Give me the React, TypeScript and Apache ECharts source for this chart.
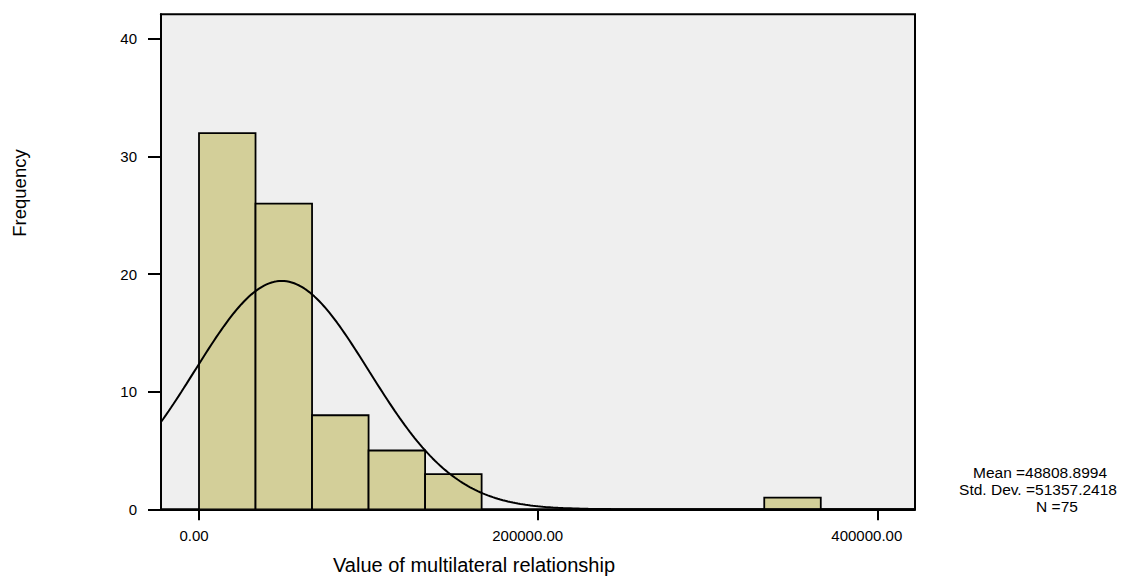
import React, { useEffect, useRef } from "react";
import * as echarts from "echarts";

// Histogram of "Value of multilateral relationship" with a fitted normal curve.
const binWidth = 100000 / 3;
const frequencies = [32, 26, 8, 5, 3, 0, 0, 0, 0, 0, 1];
const yTicks = [0, 10, 20, 30, 40];
const xTicks = [0, 200000, 400000];
const xTickLabels = ["0.00", "200000.00", "400000.00"];

// Summary statistics shown beside the plot.
const mean = 48808.8994;
const stdDev = 51357.2418;
const count = 75;

const xMin = -22409;
const xMax = 422232;
const yMax = 42.1;

const FONT = "'Liberation Sans', Arial, sans-serif";

// Bars as [lower edge, upper edge, frequency]; empty bins are not drawn.
const barData = frequencies
  .map((f, i) => [i * binWidth, (i + 1) * binWidth, f])
  .filter((d) => d[2] > 0);

// Normal density for the stated mean / std. dev., scaled to counts per bin.
const curveSteps = 300;
const curveData: number[][] = [];
for (let i = 0; i <= curveSteps; i++) {
  const x = xMin + ((xMax - xMin) * i) / curveSteps;
  const z = (x - mean) / stdDev;
  const y = (count * binWidth * Math.exp(-0.5 * z * z)) / (stdDev * Math.sqrt(2 * Math.PI));
  curveData.push([x, y]);
}

const statsText = (text: string, x: number, y: number) => ({
  type: "text",
  x,
  y,
  style: {
    text,
    fontSize: 15.5,
    lineHeight: 16,
    fontFamily: FONT,
    fill: "#000",
    align: "center",
    verticalAlign: "middle",
  },
});

export default function App() {
  const ref = useRef<HTMLDivElement>(null);

  useEffect(() => {
    document.body.style.margin = "0";
    const chart = echarts.init(ref.current!, null, { renderer: "svg" });
    chart.setOption({
      animation: false,
      backgroundColor: "#ffffff",
      textStyle: { fontFamily: FONT, color: "#000" },
      grid: {
        left: 161,
        top: 14.3,
        width: 754,
        height: 495,
        show: true,
        backgroundColor: "#efefef",
        borderColor: "#000",
        borderWidth: 2,
      },
      xAxis: {
        type: "value",
        min: xMin,
        max: xMax,
        axisLine: { show: true, onZero: false, lineStyle: { color: "#000", width: 2 } },
        axisTick: {
          show: true,
          length: 11,
          customValues: xTicks,
          lineStyle: { color: "#000", width: 2 },
        },
        axisLabel: {
          customValues: xTicks,
          margin: 19,
          fontSize: 15,
          color: "#000",
          fontFamily: FONT,
          formatter: (v: number) => {
            const label = xTickLabels[xTicks.indexOf(v)] ?? "";
            return label.length > 5 ? `{l|${label}}` : `{s|${label}}`;
          },
          rich: {
            s: { fontSize: 15, fontFamily: FONT, color: "#000", padding: [0, 10, 0, 0] },
            l: { fontSize: 15, fontFamily: FONT, color: "#000", padding: [0, 21, 0, 0] },
          },
        },
        splitLine: { show: false },
      },
      yAxis: {
        type: "value",
        min: 0,
        max: yMax,
        axisLine: { show: true, onZero: false, lineStyle: { color: "#000", width: 2 } },
        axisTick: {
          show: true,
          length: 13,
          customValues: yTicks,
          lineStyle: { color: "#000", width: 2 },
        },
        axisLabel: {
          customValues: yTicks,
          margin: 24,
          fontSize: 15,
          color: "#000",
          fontFamily: FONT,
        },
        splitLine: { show: false },
      },
      series: [
        {
          type: "custom",
          data: barData,
          encode: { x: [0, 1], y: 2 },
          clip: true,
          z: 2,
          renderItem: (params: any, api: any) => {
            const topLeft = api.coord([api.value(0), api.value(2)]);
            const bottomRight = api.coord([api.value(1), 0]);
            return {
              type: "rect",
              shape: {
                x: topLeft[0],
                y: topLeft[1],
                width: bottomRight[0] - topLeft[0],
                height: bottomRight[1] - topLeft[1],
              },
              style: { fill: "#d3cf99", stroke: "#000", lineWidth: 1.8 },
            };
          },
        },
        {
          type: "line",
          data: curveData,
          showSymbol: false,
          symbol: "none",
          smooth: false,
          clip: true,
          z: 3,
          lineStyle: { color: "#000", width: 2 },
        },
      ],
      graphic: [
        {
          type: "text",
          x: 474,
          y: 565,
          style: {
            text: "Value of multilateral relationship",
            fontSize: 20,
            fontFamily: FONT,
            fill: "#000",
            align: "center",
            verticalAlign: "middle",
          },
        },
        {
          type: "text",
          x: 19,
          y: 193,
          rotation: Math.PI / 2,
          style: {
            text: "Frequency",
            fontSize: 18.5,
            fontFamily: FONT,
            fill: "#000",
            align: "center",
            verticalAlign: "middle",
          },
        },
        statsText(`Mean =${mean.toFixed(4)}`, 1040, 472),
        statsText(`Std. Dev. =${stdDev.toFixed(4)}`, 1038, 489),
        statsText(`N =${count}`, 1057, 506),
      ],
    });
    return () => chart.dispose();
  }, []);

  return <div ref={ref} style={{ width: 1132, height: 576 }} />;
}
